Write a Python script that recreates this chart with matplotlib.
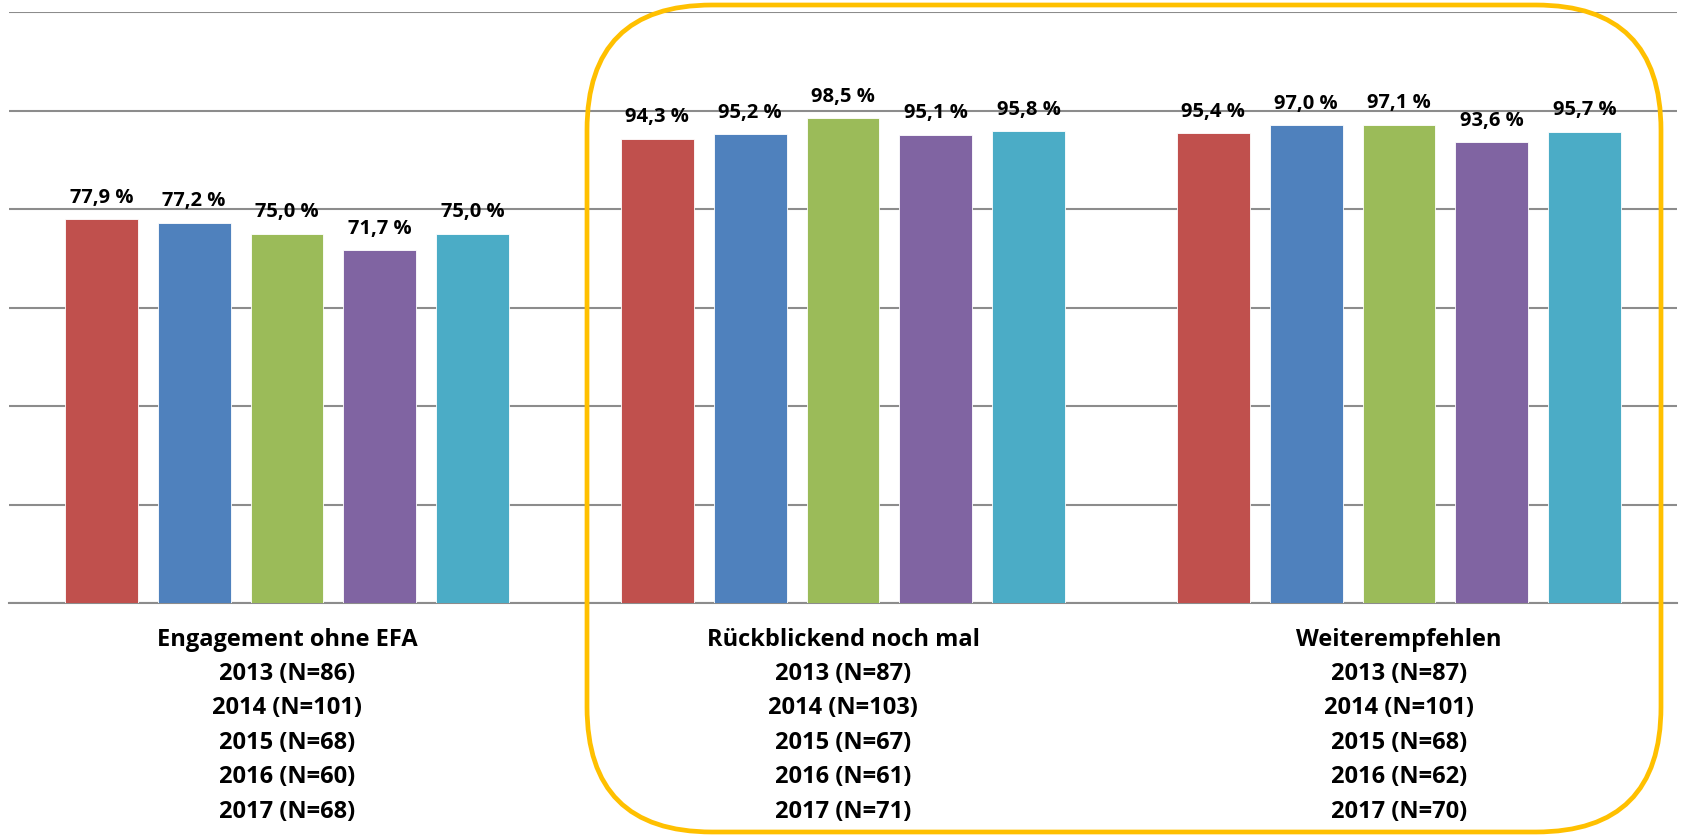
import numpy as np
import matplotlib
matplotlib.use("Agg")
import matplotlib.pyplot as plt
from matplotlib.patches import FancyBboxPatch

# survey results per question, one value per year 2013-2017
groups = ["Engagement ohne EFA", "Rückblickend noch mal", "Weiterempfehlen"]
years = ["2013", "2014", "2015", "2016", "2017"]
values = [
    [77.9, 77.2, 75.0, 71.7, 75.0],
    [94.3, 95.2, 98.5, 95.1, 95.8],
    [95.4, 97.0, 97.1, 93.6, 95.7],
]
counts = [
    [86, 101, 68, 60, 68],
    [87, 103, 67, 61, 71],
    [87, 101, 68, 62, 70],
]
colors = ["#C0504D", "#4F81BD", "#9BBB59", "#8064A2", "#4BACC6"]

plt.rcParams['font.family'] = ['Open Sans', 'DejaVu Sans']
plt.rcParams['font.weight'] = 'bold'

fig = plt.figure(figsize=(16.83, 8.37), dpi=100)
ax = fig.add_axes([9 / 1683, 1 - 604 / 837, 1668 / 1683, 591 / 837])

x = np.arange(len(groups))
pitch = 0.167
width = 0.131
for i, year in enumerate(years):
    vals = [v[i] for v in values]
    pos = x + (i - 2) * pitch
    ax.bar(pos, vals, width, color=colors[i], zorder=3,
           edgecolor="white", linewidth=0.6)
    for px, v in zip(pos, vals):
        ax.annotate(f"{v:.1f} %".replace(".", ","), (px, v),
                    xytext=(0, 12.5), textcoords="offset points",
                    ha="center", va="baseline", fontsize=14.5,
                    fontweight="bold", zorder=4)

ax.set_xlim(-0.5, 2.5)
ax.set_ylim(0, 120)
ax.set_yticks(np.arange(0, 121, 20))
ax.yaxis.grid(True, color="#8c8c8c", linewidth=1.5, zorder=0)
ax.tick_params(axis="y", left=False, labelleft=False)
for s in ["left", "right", "top"]:
    ax.spines[s].set_visible(False)
ax.spines["bottom"].set_color("#8c8c8c")
ax.spines["bottom"].set_linewidth(1.5)

labels = []
for g, ns in zip(groups, counts):
    lines = [g] + [f"{y} (N={n})" for y, n in zip(years, ns)]
    labels.append("\n".join(lines))
ax.set_xticks(x)
ax.set_xticklabels(labels, fontsize=17, fontweight="bold", linespacing=1.58)
ax.tick_params(axis="x", length=0, pad=17)

# rounded frame around the two right-hand groups
frame = FancyBboxPatch((5.87, 0.04), 10.74, 8.27,
                       boxstyle="round,pad=0,rounding_size=1.25",
                       transform=fig.dpi_scale_trans, fill=False,
                       edgecolor="#FFC000", linewidth=3.4, zorder=5)
fig.patches.append(frame)

fig.savefig("out.png", dpi=100)
